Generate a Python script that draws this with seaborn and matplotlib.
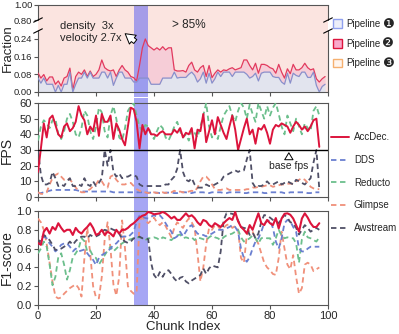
import numpy as np
import matplotlib
matplotlib.use("Agg")
import matplotlib.pyplot as plt
import seaborn as sns
from matplotlib.patches import Patch
from matplotlib.lines import Line2D

sns.set_style("ticks")
plt.rcParams["font.family"] = ["Liberation Sans", "DejaVu Sans"]

# ---------------- data ----------------
# top panel: share of chunks handled by pipeline 1, and by pipelines 1+2 together
pipe1 = [0.063, 0.04, 0.063, 0.035, 0.035, 0.035, 0.0, 0.03, 0.0, 0.035,
         0.035, 0.09, 0.0, 0.035, 0.063, 0.063, 0.09, 0.063, 0.09, 0.063,
         0.063, 0.063, 0.09, 0.09, 0.063, 0.09, 0.03, 0.063, 0.09, 0.09,
         0.063, 0.063, 0.063, 0.045, 0.045, 0.063, 0.063, 0.063, 0.063, 0.035,
         0.035, 0.035, 0.035, 0.063, 0.063, 0.063, 0.063, 0.09, 0.063,
         0.066, 0.066, 0.066, 0.08, 0.09, 0.075, 0.045, 0.06, 0.09, 0.04,
         0.085, 0.04, 0.06, 0.09, 0.07, 0.09, 0.09, 0.09, 0.07, 0.09,
         0.09, 0.09, 0.09, 0.08, 0.063, 0.07, 0.085, 0.05, 0.085, 0.09,
         0.09, 0.09, 0.07, 0.066, 0.066, 0.045, 0.035, 0.085, 0.04, 0.085,
         0.075, 0.07, 0.09, 0.09, 0.066, 0.066, 0.09, 0.03, 0.0, 0.025, 0.035]
pipe12 = [0.086, 0.063, 0.079, 0.05, 0.068, 0.068, 0.035, 0.05, 0.027, 0.063,
          0.07, 0.108, 0.01, 0.07, 0.09, 0.08, 0.1, 0.07, 0.095, 0.07,
          0.08, 0.1, 0.145, 0.11, 0.1, 0.095, 0.1, 0.07, 0.1, 0.12,
          0.1, 0.09, 0.07, 0.065, 0.05, 0.12, 0.2, 0.24, 0.21, 0.2,
          0.19, 0.2, 0.19, 0.205, 0.19, 0.2, 0.2, 0.1, 0.095,
          0.095, 0.097, 0.09, 0.12, 0.135, 0.1, 0.09, 0.11, 0.12, 0.07,
          0.12, 0.065, 0.085, 0.1, 0.09, 0.1, 0.097, 0.105, 0.11, 0.1,
          0.105, 0.11, 0.145, 0.145, 0.12, 0.1, 0.13, 0.085, 0.125, 0.125,
          0.12, 0.11, 0.105, 0.085, 0.125, 0.09, 0.063, 0.105, 0.083, 0.125,
          0.1, 0.1, 0.11, 0.13, 0.11, 0.1, 0.105, 0.06, 0.045, 0.06, 0.07]

# middle panel: FPS per chunk
accdec_fps = [16, 31, 47, 38, 50, 52, 46, 40, 38, 45,
              47, 42, 44, 48, 58, 52, 49, 40, 45, 42,
              52, 39, 53, 48, 48, 52, 37, 47, 43, 37,
              33, 45, 57, 56, 48, 31, 46, 40, 44, 40,
              40, 39, 41, 42, 40, 40, 40, 43, 41, 44,
              38, 41, 40, 44, 31, 43, 42, 53, 35, 42,
              49, 40, 51, 46, 41, 37, 45, 52, 43, 30,
              37, 44, 50, 40, 43, 34, 44, 43, 46, 41,
              34, 43, 46, 45, 47, 46, 45, 41, 45, 48,
              46, 43, 45, 42, 45, 49, 50, 32]
dds_fps = [2.5, 2.5, 3, 3.5, 4, 4.5, 4.5, 4.5, 4.5, 4.5,
           4.5, 4.5, 4.5, 4.5, 4, 3.5, 3.5, 3.5, 3.5, 3.5,
           3.5, 3.5, 3.5, 3.5, 3.5, 3.5, 3, 3, 3, 3,
           3, 3, 3, 3, 3, 3, 3, 2.8, 2.8, 2.8,
           2.8, 2.8, 2.5, 2.5, 2.8, 2.8, 2.8, 2.5, 2.5, 3,
           3, 3, 2.5, 2.5, 3, 3, 3, 3, 2.5, 2.5,
           3, 3, 3, 3, 2.5, 2.5, 3, 3, 3, 3,
           3, 2.5, 2.5, 3, 3, 3, 3, 3, 2.5, 2.5,
           3, 3, 3, 3, 3, 2.5, 2.5, 3, 3, 3,
           3, 3, 3, 2.5, 2.5, 3, 3, 3]
reducto_fps = [36, 45, 49, 47, 44, 49, 50, 40, 37, 42,
               50, 53, 48, 40, 38, 44, 55, 52, 42, 37,
               45, 57, 54, 42, 38, 52, 58, 50, 38, 36,
               44, 55, 58, 60, 52, 45, 42, 46, 45, 40,
               37, 42, 46, 44, 38, 36, 40, 45, 48, 42,
               38, 40, 36, 43, 41, 38, 45, 52, 60, 45,
               38, 42, 37, 45, 52, 55, 58, 52, 48, 55,
               60, 57, 50, 59, 53, 48, 60, 55, 50, 58,
               52, 57, 60, 53, 45, 40, 52, 47, 42, 50,
               45, 40, 47, 44, 42, 55, 58, 52]
glimpse_fps = [3, 2, 2, 3, 8, 12, 14, 15, 13, 11,
               12, 11, 9, 6, 4, 3, 3, 4, 5, 7,
               8, 11, 10, 7, 6, 13, 14, 11, 9, 8,
               8, 9, 9, 7, 5, 4, 3, 3, 2.5, 2.5,
               3, 2.5, 2.5, 3, 2.5, 3, 3, 4, 3, 3.5,
               3, 3, 3.5, 4, 3.5, 6, 10, 13, 13, 11,
               8, 5, 4.5, 4.5, 5, 5.5, 4.5, 4.5, 4.5, 4.5,
               4.5, 4.5, 5, 5, 6, 6, 6.5, 6.5, 7, 7.5,
               7.5, 6.5, 7, 7.5, 8, 8, 8.5, 8.5, 8.5, 10,
               11, 12, 11, 9, 6.5, 5.5, 5, 5]
awstream_fps = [30, 14, 8, 8, 9, 16, 12, 7, 8, 7,
                10, 12, 7, 7, 8, 7, 12, 8, 7, 10,
                7, 9, 12, 30, 20, 30, 16, 13, 15, 12,
                13, 13, 14, 14, 13, 8, 7, 7, 7, 7,
                7, 7, 7, 7, 8, 8, 11, 13, 18, 30,
                16, 11, 10, 12, 8, 6, 6, 6, 8, 7,
                7, 8, 9, 10, 13, 14, 15, 16, 17, 16,
                17, 17, 24, 30, 9, 6, 7, 7, 8, 10,
                8, 8, 9, 10, 8, 9, 10, 9, 8, 11,
                10, 9, 8, 10, 12, 22, 30, 5]

# bottom panel: F1-score per chunk
accdec_f1 = [0.66, 0.64, 0.78, 0.82, 0.76, 0.83, 0.80, 0.87, 0.82, 0.78,
             0.80, 0.80, 0.745, 0.82, 0.78, 0.76, 0.80, 0.83, 0.87, 0.82,
             0.745, 0.76, 0.80, 0.745, 0.78, 0.76, 0.73, 0.80, 0.76, 0.80,
             0.80, 0.82, 0.85, 0.87, 0.90, 0.93, 0.95, 0.96, 0.99, 0.98,
             0.965, 0.97, 0.975, 0.99, 0.975, 0.95, 0.92, 0.94, 0.905, 0.905,
             0.94, 0.975, 0.94, 0.955, 0.925, 0.88, 0.85, 0.905, 0.89, 0.85,
             0.83, 0.87, 0.85, 0.83, 0.87, 0.90, 0.925, 0.905, 0.99, 0.89,
             0.83, 0.80, 0.76, 0.85, 0.80, 0.89, 0.975, 0.87, 0.85, 0.905,
             0.87, 0.85, 0.925, 0.815, 0.92, 0.97, 0.975, 0.96, 0.92, 0.85,
             0.78, 0.92, 0.975, 0.93, 0.87, 0.83, 0.83, 0.87]
dds_f1 = [0.64, 0.675, 0.73, 0.71, 0.655, 0.62, 0.57, 0.60, 0.64, 0.655,
          0.655, 0.62, 0.57, 0.60, 0.57, 0.58, 0.59, 0.55, 0.51, 0.48,
          0.425, 0.50, 0.53, 0.55, 0.57, 0.60, 0.64, 0.655, 0.69, 0.727,
          0.73, 0.72, 0.75, 0.78, 0.89, 0.95, 0.94, 0.925, 0.92, 0.94,
          0.955, 0.94, 0.955, 0.92, 0.87, 0.82, 0.78, 0.71, 0.73, 0.78,
          0.73, 0.78, 0.83, 0.85, 0.80, 0.76, 0.745, 0.745, 0.73, 0.745,
          0.76, 0.78, 0.80, 0.80, 0.80, 0.815, 0.83, 0.85, 0.83, 0.78,
          0.60, 0.50, 0.46, 0.51, 0.60, 0.675, 0.71, 0.78, 0.87, 0.89,
          0.905, 0.82, 0.675, 0.60, 0.71, 0.87, 0.905, 0.89, 0.83, 0.78,
          0.60, 0.57, 0.57, 0.60, 0.62, 0.62, 0.62, 0.62]
reducto_f1 = [0.55, 0.60, 0.675, 0.62, 0.43, 0.21, 0.30, 0.51, 0.55, 0.43,
              0.27, 0.37, 0.51, 0.55, 0.60, 0.71, 0.68, 0.57, 0.58, 0.52,
              0.50, 0.43, 0.48, 0.53, 0.58, 0.62, 0.57, 0.60, 0.63, 0.656,
              0.675, 0.69, 0.70, 0.71, 0.72, 0.72, 0.71, 0.69, 0.71, 0.71,
              0.72, 0.71, 0.69, 0.72, 0.71, 0.70, 0.69, 0.72, 0.74, 0.75,
              0.71, 0.72, 0.71, 0.72, 0.69, 0.72, 0.71, 0.70, 0.69, 0.72,
              0.74, 0.72, 0.71, 0.69, 0.72, 0.74, 0.75, 0.76, 0.78, 0.80,
              0.72, 0.675, 0.69, 0.71, 0.74, 0.71, 0.656, 0.71, 0.72, 0.71,
              0.71, 0.64, 0.71, 0.80, 0.74, 0.71, 0.72, 0.71, 0.71, 0.656,
              0.45, 0.70, 0.78, 0.72, 0.71, 0.69, 0.675, 0.72]
glimpse_f1 = [0.92, 0.88, 0.80, 0.65, 0.45, 0.25, 0.09, 0.07, 0.08, 0.12,
              0.15, 0.18, 0.20, 0.22, 0.18, 0.09, 0.50, 0.82, 0.55, 0.20,
              0.08, 0.07, 0.30, 0.70, 0.88, 0.60, 0.22, 0.10, 0.30, 0.90,
              0.60, 0.20, 0.15, 0.12, 0.13, 0.90, 0.93, 0.90, 0.87, 0.90,
              0.93, 0.88, 0.85, 0.88, 0.84, 0.78, 0.72, 0.82, 0.88, 0.85,
              0.82, 0.88, 0.92, 0.88, 0.82, 0.55, 0.25, 0.40, 0.65, 0.82,
              0.80, 0.85, 0.84, 0.80, 0.82, 0.85, 0.86, 0.82, 0.84, 0.80,
              0.50, 0.45, 0.74, 0.80, 0.78, 0.71, 0.65, 0.55, 0.45, 0.40,
              0.37, 0.33, 0.32, 0.50, 0.78, 0.60, 0.43, 0.38, 0.53, 0.30,
              0.12, 0.18, 0.43, 0.45, 0.43, 0.36, 0.38, 0.40]
awstream_f1 = [0.64, 0.71, 0.745, 0.72, 0.69, 0.64, 0.585, 0.59, 0.60, 0.62,
               0.64, 0.675, 0.64, 0.68, 0.71, 0.727, 0.727, 0.71, 0.745, 0.727,
               0.73, 0.745, 0.78, 0.80, 0.79, 0.815, 0.80, 0.79, 0.76, 0.70,
               0.675, 0.66, 0.675, 0.71, 0.71, 0.727, 0.71, 0.71, 0.70, 0.45,
               0.32, 0.28, 0.35, 0.30, 0.355, 0.37, 0.33, 0.28, 0.25, 0.29,
               0.30, 0.25, 0.23, 0.26, 0.28, 0.30, 0.32, 0.39, 0.33, 0.39,
               0.42, 0.41, 0.40, 0.57, 0.90, 0.975, 0.975, 0.97, 0.957, 0.90,
               0.83, 0.82, 0.815, 0.745, 0.77, 0.71, 0.76, 0.887, 0.957, 0.95,
               0.93, 0.905, 0.89, 0.87, 0.92, 0.957, 0.93, 0.88, 0.87, 0.82,
               0.75, 0.80, 0.85, 0.82, 0.78, 0.80, 0.82, 0.80]

highlight = (33, 38)       # chunks with the density / velocity burst
base_fps = 30
pipe_labels = ["\u2776", "\u2777", "\u2778"]

chunk_top = np.arange(len(pipe1))
chunk = np.arange(len(accdec_fps))

# ---------------- colours ----------------
RED = "#dc143c"
DDS_C = "#6a7fd0"
RED_C = "#6cbf8c"
GLI_C = "#f0907a"
AWS_C = "#4f4f66"
BAND = "#7070ee"
P1_FILL, P1_LINE = "#e2e4ee", "#8890cc"
P2_FILL = "#f6cdd7"
P3_FILL = "#fbe4e0"
SPINE = "#555555"
DASH = (0, (3, 2))

# ---------------- layout ----------------
W, H = 399, 334
fig = plt.figure(figsize=(W / 100, H / 100), dpi=100)


def add_ax(left, top, right, bottom):
    return fig.add_axes([left / W, 1 - bottom / H, (right - left) / W, (bottom - top) / H])


ax_frac = add_ax(38, 5, 328, 92)
ax_fps = add_ax(38, 103, 328, 197)
ax_f1 = add_ax(38, 211, 328, 305)

for ax in (ax_frac, ax_fps, ax_f1):
    ax.set_xlim(0, 100)
    ax.set_xticks(range(0, 101, 20))
    for s in ax.spines.values():
        s.set_visible(True)
        s.set_color(SPINE)
        s.set_linewidth(0.8)
    ax.tick_params(length=3, width=0.8, color=SPINE, labelsize=8, pad=1.5)
    ax.yaxis.set_label_coords(-0.082, 0.5)

# ---------------- top: fraction with broken y axis ----------------
brk_v = [0, 0.276, 0.8, 1.0]
brk_s = [0, 61, 72, 87]
ax_frac.set_yscale("function",
                   functions=(lambda y: np.interp(y, brk_v, brk_s),
                              lambda s: np.interp(s, brk_s, brk_v)))
ax_frac.set_ylim(0, 1)
ax_frac.set_facecolor(P3_FILL)
p1 = np.array(pipe1)
p12 = np.array(pipe12)
ax_frac.fill_between(chunk_top, p12, 1.0, color=P3_FILL, lw=0, zorder=1)
ax_frac.fill_between(chunk_top, p1, p12, color=P2_FILL, lw=0, zorder=1)
ax_frac.fill_between(chunk_top, 0, p1, color=P1_FILL, lw=0, zorder=1)
sns.lineplot(x=chunk_top, y=p12, ax=ax_frac, color="#e23a5e", linewidth=0.9, zorder=3)
sns.lineplot(x=chunk_top, y=p1, ax=ax_frac, color=P1_LINE, linewidth=0.9, zorder=3)
ax_frac.set_yticks([0, 0.08, 0.16, 0.24, 0.8, 1.0])
ax_frac.set_yticklabels(["0.00", "0.08", "0.16", "0.24", "0.80", "1.00"])
ax_frac.tick_params(axis="y", labelsize=6.8, pad=1)
ax_frac.set_ylabel("Fraction", fontsize=9.5)
ax_frac.tick_params(labelbottom=False)

# axis break: hide spine segment, draw slanted marks
for side, xa in (("left", 0), ("right", 1)):
    ax_frac.spines[side].set_bounds(0, 0.276)
    ax_frac.plot([xa, xa], [0.8, 1.0], transform=ax_frac.get_yaxis_transform(),
                 color=SPINE, lw=0.8, clip_on=False, zorder=5)
    for yb in (61 / 87, 72 / 87):
        ax_frac.plot([xa - 0.015, xa + 0.015], [yb - 0.025, yb + 0.025],
                     transform=ax_frac.transAxes, color="black", lw=0.8,
                     clip_on=False, zorder=5)

ax_frac.text(0.076, 0.695, "density  3x\nvelocity 2.7x", transform=ax_frac.transAxes,
             fontsize=8, va="center", ha="left", linespacing=1.25, zorder=6)
ax_frac.annotate("", xy=(0.293, 0.69), xytext=(0.343, 0.56), xycoords="axes fraction",
                 arrowprops=dict(arrowstyle="simple,head_length=0.7,head_width=0.8,tail_width=0.35",
                                 fc="white", ec="black", lw=0.7, mutation_scale=10), zorder=6)
ax_frac.text(0.462, 0.77, "> 85%", transform=ax_frac.transAxes, fontsize=8.5,
             va="center", ha="left", zorder=6)

# ---------------- middle: FPS ----------------
sns.lineplot(x=chunk, y=reducto_fps, ax=ax_fps, color=RED_C, linewidth=1.3,
             linestyle=DASH, zorder=3)
sns.lineplot(x=chunk, y=accdec_fps, ax=ax_fps, color=RED, linewidth=1.4, zorder=4)
sns.lineplot(x=chunk, y=dds_fps, ax=ax_fps, color=DDS_C, linewidth=1.3,
             linestyle=DASH, zorder=3)
sns.lineplot(x=chunk, y=glimpse_fps, ax=ax_fps, color=GLI_C, linewidth=1.3,
             linestyle=DASH, zorder=3)
sns.lineplot(x=chunk, y=awstream_fps, ax=ax_fps, color=AWS_C, linewidth=1.3,
             linestyle=DASH, zorder=3)
ax_fps.axhline(base_fps, color="black", lw=1.0, zorder=5)
ax_fps.set_ylim(0, 60)
ax_fps.set_yticks(range(0, 61, 10))
ax_fps.set_ylabel("FPS", fontsize=10)
ax_fps.tick_params(labelbottom=False)
ax_fps.annotate("", xy=(86.5, base_fps), xytext=(86.5, 23.5),
                arrowprops=dict(arrowstyle="simple,head_length=0.5,head_width=0.6,tail_width=0.25",
                                fc="white", ec="black", lw=0.7, mutation_scale=10), zorder=6)
ax_fps.text(86.5, 19.5, "base fps", fontsize=7.5, ha="center", va="center", zorder=6)

# ---------------- bottom: F1-score ----------------
sns.lineplot(x=chunk, y=glimpse_f1, ax=ax_f1, color=GLI_C, linewidth=1.3,
             linestyle=DASH, zorder=3)
sns.lineplot(x=chunk, y=reducto_f1, ax=ax_f1, color=RED_C, linewidth=1.3,
             linestyle=DASH, zorder=3)
sns.lineplot(x=chunk, y=dds_f1, ax=ax_f1, color=DDS_C, linewidth=1.3,
             linestyle=DASH, zorder=3)
sns.lineplot(x=chunk, y=awstream_f1, ax=ax_f1, color=AWS_C, linewidth=1.3,
             linestyle=DASH, zorder=3)
sns.lineplot(x=chunk, y=accdec_f1, ax=ax_f1, color=RED, linewidth=1.5, zorder=4)
ax_f1.set_ylim(0, 1.0)
ax_f1.set_yticks(np.arange(0, 1.01, 0.2))
ax_f1.set_yticklabels([f"{v:.1f}" for v in np.arange(0, 1.01, 0.2)])
ax_f1.set_ylabel("F1-score", fontsize=10)
ax_f1.set_xlabel("Chunk Index", fontsize=9.5, labelpad=0)

# highlighted chunks, continued through the gaps between panels
ax_frac.axvspan(*highlight, ymin=-5.5 / 87, ymax=1, color=BAND, alpha=0.62, lw=0,
                zorder=2, clip_on=False)
ax_fps.axvspan(*highlight, ymin=-7 / 94, ymax=1 + 5.5 / 94, color=BAND, alpha=0.62,
               lw=0, zorder=2, clip_on=False)
ax_f1.axvspan(*highlight, ymin=0, ymax=1 + 7 / 94, color=BAND, alpha=0.62, lw=0,
              zorder=2, clip_on=False)

# ---------------- legends ----------------
pipe_handles = [Patch(facecolor="#eceef8", edgecolor="#8fa0ee", lw=1.0),
                Patch(facecolor="#f9a9cc", edgecolor=RED, lw=1.0),
                Patch(facecolor="#fff5ee", edgecolor="#f5b070", lw=1.0)]
leg = fig.legend(pipe_handles, ["Pipeline"] * 3,
                 loc="upper left", bbox_to_anchor=(333 / W, 1 - 19 / H), frameon=False,
                 fontsize=7, handlelength=0.95, handleheight=0.95, handletextpad=0.4,
                 labelspacing=1.0, borderpad=0, borderaxespad=0)
# big filled circled numbers after each "Pipeline" label
fig.canvas.draw()
for txt, num in zip(leg.get_texts(), pipe_labels):
    bb = txt.get_window_extent()
    fig.text((bb.x1 + 2) / W, (bb.y0 + bb.y1) / 2 / H, num, fontsize=9.5,
             family="DejaVu Sans", ha="left", va="center")

line_handles = [Line2D([], [], color=RED, lw=1.4),
                Line2D([], [], color=DDS_C, lw=1.3, linestyle=DASH),
                Line2D([], [], color=RED_C, lw=1.3, linestyle=DASH),
                Line2D([], [], color=GLI_C, lw=1.3, linestyle=DASH),
                Line2D([], [], color=AWS_C, lw=1.3, linestyle=DASH)]
fig.legend(line_handles, ["AccDec.", "DDS", "Reducto", "Glimpse", "Awstream"],
           loc="upper left", bbox_to_anchor=(331 / W, 1 - 132.5 / H), frameon=False,
           fontsize=7, handlelength=1.9, handletextpad=0.45, labelspacing=1.3,
           borderpad=0, borderaxespad=0)

fig.savefig("out.png", dpi=100, facecolor="white")
